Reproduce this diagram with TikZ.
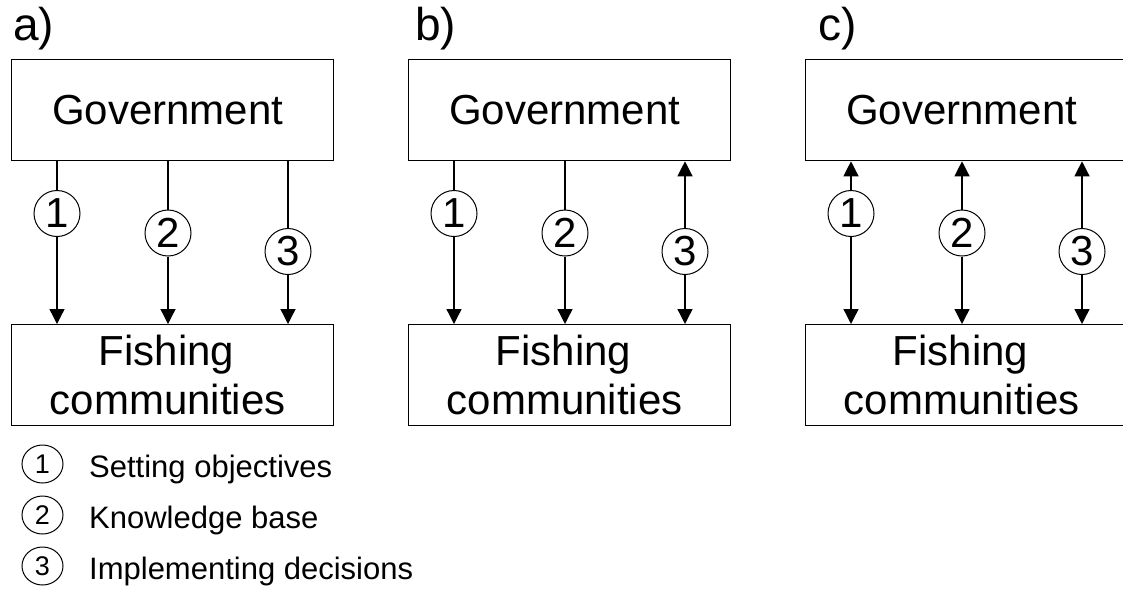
\documentclass[tikz,border=0pt]{standalone}
\usepackage{fontspec}
\setmainfont{Liberation Sans}
\usetikzlibrary{arrows.meta,shapes.geometric}

\tikzset{
  box/.style={draw, line width=1.3pt, minimum width=322pt, minimum height=101pt,
              inner sep=0pt, anchor=north west, align=center,
              font=\fontsize{42}{49}\selectfont},
  num/.style={draw, circle, line width=1pt, minimum size=46pt, inner sep=0pt,
              fill=white, font=\fontsize{42}{42}\selectfont},
  keynum/.style={draw, ellipse, line width=1pt, minimum width=41pt, minimum height=38pt,
                 inner sep=0pt, font=\fontsize{27}{27}\selectfont},
  keytext/.style={anchor=base west, inner sep=0pt, font=\fontsize{31}{36}\selectfont},
  panel/.style={anchor=base west, inner sep=0pt, font=\fontsize{46}{46}\selectfont},
  link/.style={line width=1.3pt},
  tip/.style={line width=1.3pt, -{Triangle[length=15pt,width=15pt]}}
}

\begin{document}
\begin{tikzpicture}[x=1pt, y=-1pt]
  \useasboundingbox (0,0) rectangle (1123,590);
  \clip (0,0) rectangle (1123,590);

  % panel letters
  \node[panel] (la) at (13,40) {a)};
  \node[panel] (lb) at (415,40) {b)};
  \node[panel] (lc) at (818,40) {c)};

  % boxes and numbered circles of the three panels
  \foreach \p/\x in {a/11, b/408, c/805} {
    \node[box] (gov\p)  at (\x,59)  {Government\hspace*{10pt}};
    \node[box] (fish\p) at (\x,324) {Fishing\hspace*{12pt}\\communities\hspace*{10pt}};
    \node[num] (\p1) at (\x+46,213.5) {1};
    \node[num] (\p2) at (\x+157,233)  {2};
    \node[num] (\p3) at (\x+277,251.5){3};
  }

  % a) everything flows from government downwards
  \foreach \k in {1,2,3} {
    \draw[link] (a\k) -- (a\k |- gova.south);
    \draw[tip]  (a\k) -- (a\k |- fisha.north);
  }

  % b) implementation runs both ways
  \foreach \k in {1,2} {
    \draw[link] (b\k) -- (b\k |- govb.south);
    \draw[tip]  (b\k) -- (b\k |- fishb.north);
  }
  \draw[tip] (b3) -- (b3 |- govb.south);
  \draw[tip] (b3) -- (b3 |- fishb.north);

  % c) all three run both ways
  \foreach \k in {1,2,3} {
    \draw[tip] (c\k) -- (c\k |- govc.south);
    \draw[tip] (c\k) -- (c\k |- fishc.north);
  }

  % key
  \node[keynum] (k1) at (42.5,464) {1};
  \node[keynum] (k2) at (42.5,515) {2};
  \node[keynum] (k3) at (42.5,566) {3};
  \node[keytext] (t1) at (89,477) {Setting objectives};
  \node[keytext] (t2) at (89,528) {Knowledge base};
  \node[keytext] (t3) at (89,579) {Implementing decisions};
\end{tikzpicture}
\end{document}
